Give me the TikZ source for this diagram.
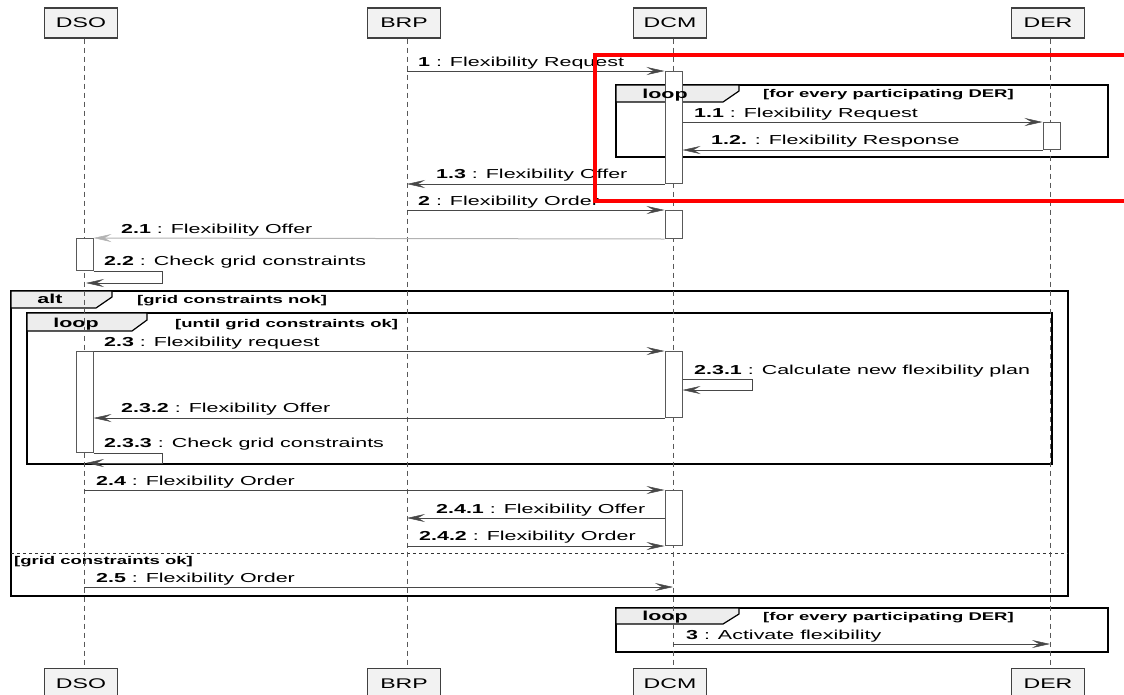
\documentclass[tikz,border=0pt]{standalone}
\usepackage{fontspec}
\setmainfont{Liberation Sans}[FakeStretch=1.65]
\usetikzlibrary{arrows.meta, positioning, calc}

\begin{document}
\begin{tikzpicture}[
    x=1pt, y=-1pt,
    partnode/.style={draw=black!75, fill=black!5, line width=1.4pt, minimum width=73pt, minimum height=30pt, inner sep=0pt, font=\fontsize{14}{16}\selectfont},
    actbox/.style={draw=black!65, fill=white, line width=1pt, minimum width=17pt, inner sep=0pt, anchor=north},
    lifeline/.style={draw=black!65, line width=1pt, dash pattern=on 5pt off 4pt},
    flow_msg/.style={-{Stealth[length=18pt, width=8pt, inset=7pt, line width=0.5pt]}, draw=black!72, line width=1pt},
    flow_msg_lt/.style={flow_msg, draw=black!30},
    msglabel/.style={anchor=base west, inner sep=0pt, font=\fontsize{13}{15}\selectfont},
    framebox/.style={draw=black, line width=2.2pt},
    tabshape/.style={draw=black, fill=black!7, line width=1.2pt},
    tablabel/.style={anchor=base, inner sep=0pt, font=\fontsize{13}{15}\selectfont\bfseries},
    guardlabel/.style={anchor=base west, inner sep=0pt, font=\fontsize{11.2}{13}\selectfont\bfseries},
    separator/.style={draw=black!80, line width=1pt, dash pattern=on 3pt off 3pt},
    highlight/.style={draw=red, line width=4pt}
]
    \useasboundingbox (0,0) rectangle (1124,694);

    % combined fragments
    \draw[framebox] (616,85) rectangle (1108,157);
    \draw[tabshape] (616,85) -- (739,85) -- (739,91) -- (723,102) -- (616,102) -- cycle;
    \node[guardlabel] (guard_loop1) at (763,97) {[for every participating DER]};

    \draw[framebox] (11,291) rectangle (1068,596);
    \draw[tabshape] (11,291) -- (112,291) -- (112,297) -- (96,308) -- (11,308) -- cycle;
    \node[tablabel] (tab_alt) at (50,303) {alt};
    \node[guardlabel] (guard_alt) at (137,303) {[grid constraints nok]};
    \draw[separator] (11,553) -- (1068,553);
    \node[guardlabel] (guard_else) at (14,564) {[grid constraints ok]};

    \draw[framebox] (27,313) rectangle (1052,464);
    \draw[tabshape] (27,313) -- (147,313) -- (147,320) -- (132,331) -- (27,331) -- cycle;
    \node[tablabel] (tab_loop2) at (76,327) {loop};
    \node[guardlabel] (guard_loop2) at (175,327) {[until grid constraints ok]};

    \draw[framebox] (616,608) rectangle (1108,652);
    \draw[tabshape] (616,608) -- (739,608) -- (739,614) -- (723,624) -- (616,624) -- cycle;
    \node[tablabel] (tab_loop3) at (665,620) {loop};
    \node[guardlabel] (guard_loop3) at (763,620) {[for every participating DER]};

    % participants
    \node[partnode] (head_DSO) at (81,23) {DSO};
    \node[partnode] (foot_DSO) [below=629pt of head_DSO] {DSO};
    \node[partnode] (head_BRP) at (404,23) {BRP};
    \node[partnode] (foot_BRP) [below=629pt of head_BRP] {BRP};
    \node[partnode] (head_DCM) at (670,23) {DCM};
    \node[partnode] (foot_DCM) [below=629pt of head_DCM] {DCM};
    \node[partnode] (head_DER) at (1048,23) {DER};
    \node[partnode] (foot_DER) [below=629pt of head_DER] {DER};

    \coordinate (ll_DSO) at (84,0);
    \coordinate (ll_BRP) at (407,0);
    \coordinate (ll_DCM) at (673,0);
    \coordinate (ll_DER) at (1050,0);
    \draw[lifeline] (ll_DSO |- head_DSO.south) -- (ll_DSO |- foot_DSO.north);
    \draw[lifeline] (ll_BRP |- head_BRP.south) -- (ll_BRP |- foot_BRP.north);
    \draw[lifeline] (ll_DCM |- head_DCM.south) -- (ll_DCM |- foot_DCM.north);
    \draw[lifeline] (ll_DER |- head_DER.south) -- (ll_DER |- foot_DER.north);

    % activations
    \node[actbox, minimum height=112pt] (act_DCM1) at (673.5,71) {};
    \node[actbox, minimum height=27pt] (act_DER1) at (1051.5,122) {};
    \node[actbox, minimum height=28pt] (act_DCM2) at (673.5,210) {};
    \node[actbox, minimum height=32pt] (act_DSO1) at (84.5,238) {};
    \node[actbox, minimum height=101pt] (act_DSO2) at (84.5,351) {};
    \node[actbox, minimum height=66pt] (act_DCM3) at (673.5,351) {};
    \node[actbox, minimum height=55pt] (act_DCM4) at (673.5,490) {};
    \node[tablabel] (tab_loop1) at (665,98) {loop};

    % messages
    \draw[flow_msg] (ll_BRP |- act_DCM1.north) -- (act_DCM1.north west);
    \node[msglabel] (lbl_1) at (418,66) {\textbf{1} : Flexibility Request};

    \draw[flow_msg] (act_DCM1.east |- act_DER1.north) -- (act_DER1.north west);
    \node[msglabel] (lbl_11) at (694,117) {\textbf{1.1} : Flexibility Request};

    \draw[flow_msg] (act_DER1.south west) -- (act_DCM1.east |- act_DER1.south);
    \node[msglabel] (lbl_12) at (711,144) {\textbf{1.2.} : Flexibility Response};

    \draw[flow_msg] (act_DCM1.south west) -- (ll_BRP |- act_DCM1.south);
    \node[msglabel] (lbl_13) at (436,178) {\textbf{1.3} : Flexibility Offer};

    \draw[flow_msg] (ll_BRP |- act_DCM2.north) -- (act_DCM2.north west);
    \node[msglabel] (lbl_2) at (418,205) {\textbf{2} : Flexibility Order};

    \draw[flow_msg_lt] (act_DCM2.south west) -- (act_DSO1.north east);
    \node[msglabel] (lbl_21) at (121,233) {\textbf{2.1} : Flexibility Offer};

    \draw[flow_msg] (act_DSO1.south east) -- ++(69,0) |- ($(act_DSO1.south)+(1.5,12)$);
    \node[msglabel] (lbl_22) at (104,265) {\textbf{2.2} : Check grid constraints};

    \draw[flow_msg] (act_DSO2.north east) -- (act_DCM3.north west);
    \node[msglabel] (lbl_23) at (104,346) {\textbf{2.3} : Flexibility request};

    \coordinate (self_231) at ($(act_DCM3.north east)+(0,28)$);
    \draw[flow_msg] (self_231) -- ++(70,0) |- ($(self_231)+(0,11)$);
    \node[msglabel] (lbl_231) at (694,374) {\textbf{2.3.1} : Calculate new flexibility plan};

    \draw[flow_msg] (act_DCM3.south west) -- (act_DSO2.east |- act_DCM3.south);
    \node[msglabel] (lbl_232) at (121,412) {\textbf{2.3.2} : Flexibility Offer};

    \draw[flow_msg] (act_DSO2.south east) -- ++(69,0) |- ($(act_DSO2.south)+(1.5,10)$);
    \node[msglabel] (lbl_233) at (104,447) {\textbf{2.3.3} : Check grid constraints};

    \draw[flow_msg] (ll_DSO |- act_DCM4.north) -- (act_DCM4.north west);
    \node[msglabel] (lbl_24) at (96,485) {\textbf{2.4} : Flexibility Order};

    \coordinate (m_241) at (0,518);
    \draw[flow_msg] (act_DCM4.west |- m_241) -- (ll_BRP |- m_241);
    \node[msglabel] (lbl_241) at (436,513) {\textbf{2.4.1} : Flexibility Offer};

    \draw[flow_msg] (ll_BRP |- act_DCM4.south) -- (act_DCM4.south west);
    \node[msglabel] (lbl_242) at (419,540) {\textbf{2.4.2} : Flexibility Order};

    \coordinate (m_25) at (0,587);
    \draw[flow_msg] (ll_DSO |- m_25) -- (ll_DCM |- m_25);
    \node[msglabel] (lbl_25) at (96,582) {\textbf{2.5} : Flexibility Order};

    \coordinate (m_3) at (0,644);
    \draw[flow_msg] (ll_DCM |- m_3) -- (ll_DER |- m_3);
    \node[msglabel] (lbl_3) at (686,639) {\textbf{3} : Activate flexibility};

    \draw[highlight] (595,55) rectangle (1140,201);
\end{tikzpicture}
\end{document}
